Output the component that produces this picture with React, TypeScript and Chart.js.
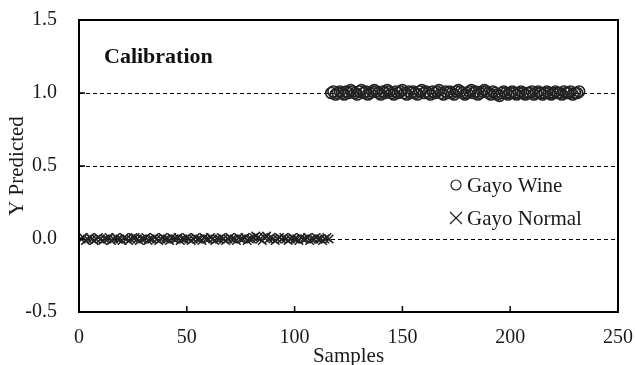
import React, { useEffect, useRef } from "react";
import { Chart, registerables } from "chart.js";

Chart.register(...registerables);

const normalValues: number[] = [
  0.00, 0.01, -0.01, 0.00, 0.01, 0.00, -0.01, 0.00, 0.01, 0.00,
  -0.01, 0.00, 0.00, 0.01, -0.01, 0.00, 0.01, 0.00, 0.00, -0.01,
  0.01, 0.00, -0.01, 0.00, 0.01, 0.01, 0.00, -0.01, 0.00, 0.00,
  0.01, -0.01, 0.00, 0.00, 0.01, 0.00, -0.01, 0.00, 0.01, 0.00,
  0.00, -0.01, 0.01, 0.00, 0.00, 0.01, -0.01, 0.00, 0.00, 0.01,
  0.00, -0.01, 0.00, 0.01, 0.00, 0.00, -0.01, 0.01, 0.00, 0.00,
  0.01, 0.00, -0.01, 0.00, 0.00, 0.01, 0.00, -0.01, 0.00, 0.01,
  0.00, 0.00, -0.01, 0.01, 0.00, 0.00, 0.01, -0.01, 0.00, 0.00,
  0.01, 0.02, 0.01, 0.00, -0.01, 0.01, 0.02, 0.00, 0.01, 0.00,
  -0.01, 0.00, 0.01, 0.00, 0.01, 0.00, -0.01, 0.00, 0.01, 0.00,
  0.00, -0.01, 0.01, 0.00, 0.00, 0.01, -0.01, 0.00, 0.00, 0.01,
  0.00, 0.00, -0.01, 0.00, 0.01, 0.00,
];

const wineValues: number[] = [
  1.00, 1.01, 0.99, 1.00, 1.01, 1.00, 0.99, 1.01, 1.00, 1.02,
  1.01, 1.00, 0.99, 1.01, 1.02, 1.00, 1.01, 0.99, 1.00, 1.01,
  1.02, 1.01, 1.00, 0.99, 1.01, 1.00, 1.02, 1.01, 1.00, 0.99,
  1.01, 1.00, 1.01, 1.02, 1.00, 0.99, 1.01, 1.00, 1.01, 1.00,
  0.99, 1.01, 1.02, 1.00, 1.01, 1.00, 0.99, 1.01, 1.00, 1.01,
  1.02, 1.00, 0.99, 1.01, 1.00, 1.01, 1.00, 0.99, 1.01, 1.02,
  1.01, 1.00, 0.99, 1.00, 1.01, 1.02, 1.00, 1.01, 0.99, 1.00,
  1.01, 1.02, 1.01, 1.00, 0.99, 1.01, 1.00, 0.99, 0.98, 1.00,
  1.01, 1.00, 0.99, 1.00, 1.01, 1.00, 0.99, 1.00, 1.01, 1.00,
  0.99, 1.00, 1.00, 1.01, 0.99, 1.00, 1.01, 1.00, 0.99, 1.00,
  1.01, 1.00, 0.99, 1.00, 1.01, 1.00, 1.00, 0.99, 1.01, 1.00,
  1.00, 1.01, 0.99, 1.00, 1.00, 1.01,
];

const normalStart = 1;
const wineStart = 117;
const seriesNames = ["Gayo Wine", "Gayo Normal"];
const chartTitle = "Calibration";
const xTitle = "Samples";
const yTitle = "Y Predicted";
const xTicks = [0, 50, 100, 150, 200, 250];
const yTicks = [-0.5, 0, 0.5, 1.0, 1.5];
const dashedLevels = [0, 0.5, 1.0];

const FONT = "'Liberation Serif', 'Times New Roman', serif";
const INK = "#1a1a1a";
const MARK = "#222222";

const overlayPlugin = {
  id: "overlay",
  beforeDatasetsDraw(chart: any) {
    const { ctx, chartArea, scales } = chart;
    const y = scales.y;
    ctx.save();
    ctx.strokeStyle = "#000";
    ctx.lineWidth = 1;
    ctx.setLineDash([4, 3]);
    dashedLevels.forEach((v) => {
      const py = Math.round(y.getPixelForValue(v)) + 0.5;
      ctx.beginPath();
      ctx.moveTo(chartArea.left, py);
      ctx.lineTo(chartArea.right, py);
      ctx.stroke();
    });
    ctx.restore();
  },
  afterDraw(chart: any) {
    const { ctx, chartArea, scales } = chart;
    const x = scales.x;
    const y = scales.y;
    ctx.save();
    ctx.strokeStyle = "#000";
    ctx.lineWidth = 2;
    ctx.setLineDash([]);
    ctx.strokeRect(chartArea.left, chartArea.top, chartArea.right - chartArea.left, chartArea.bottom - chartArea.top);
    ctx.lineWidth = 1.5;
    xTicks.forEach((v) => {
      const px = x.getPixelForValue(v);
      ctx.beginPath();
      ctx.moveTo(px, chartArea.bottom);
      ctx.lineTo(px, chartArea.bottom - 6);
      ctx.stroke();
    });
    yTicks.forEach((v) => {
      const py = y.getPixelForValue(v);
      ctx.beginPath();
      ctx.moveTo(chartArea.left, py);
      ctx.lineTo(chartArea.left + 6, py);
      ctx.stroke();
    });

    // title
    ctx.fillStyle = "#111";
    ctx.font = `bold 22px ${FONT}`;
    ctx.textBaseline = "middle";
    ctx.textAlign = "left";
    ctx.fillText(chartTitle, 104, 57);

    // legend
    const lx = 456;
    const ly1 = 185;
    const ly2 = 218;
    ctx.strokeStyle = MARK;
    ctx.lineWidth = 1.2;
    ctx.beginPath();
    ctx.arc(lx, ly1, 5, 0, Math.PI * 2);
    ctx.stroke();
    ctx.beginPath();
    ctx.moveTo(lx - 6, ly2 - 6);
    ctx.lineTo(lx + 6, ly2 + 6);
    ctx.moveTo(lx - 6, ly2 + 6);
    ctx.lineTo(lx + 6, ly2 - 6);
    ctx.stroke();
    ctx.fillStyle = INK;
    ctx.font = `21px ${FONT}`;
    ctx.fillText(seriesNames[0], lx + 11, ly1 + 1);
    ctx.fillText(seriesNames[1], lx + 11, ly2 + 1);
    ctx.restore();
  },
};

export default function App() {
  const ref = useRef<HTMLCanvasElement | null>(null);
  useEffect(() => {
    if (!ref.current) return;
    const wineData = wineValues.map((v, i) => ({ x: wineStart + i, y: v }));
    const normalData = normalValues.map((v, i) => ({ x: normalStart + i, y: v }));
    const chart = new Chart(ref.current, {
      type: "scatter",
      data: {
        datasets: [
          {
            label: seriesNames[0],
            data: wineData,
            pointStyle: "circle",
            pointRadius: 5.5,
            borderColor: MARK,
            backgroundColor: "rgba(0,0,0,0)",
            borderWidth: 1.6,
          },
          {
            label: seriesNames[1],
            data: normalData,
            pointStyle: "crossRot",
            pointRadius: 6,
            borderColor: MARK,
            backgroundColor: MARK,
            borderWidth: 1.6,
          },
        ],
      },
      options: {
        animation: false,
        responsive: false,
        maintainAspectRatio: false,
        layout: { padding: { top: 20, right: 17, left: 0, bottom: 0 } },
        plugins: { legend: { display: false }, tooltip: { enabled: false } },
        scales: {
          x: {
            type: "linear",
            min: 0,
            max: 250,
            afterFit: (s: any) => {
              s.height = 53;
              s.paddingLeft = 0;
              s.paddingRight = 0;
            },
            afterBuildTicks: (s: any) => { s.ticks = xTicks.map((v) => ({ value: v })); },
            grid: { display: false, drawTicks: false },
            border: { display: false },
            ticks: { color: INK, font: { family: FONT, size: 20 }, padding: 14, maxRotation: 0 },
            title: { display: true, text: xTitle, color: INK, font: { family: FONT, size: 21 }, padding: { top: 0, bottom: -4 } },
          },
          y: {
            type: "linear",
            min: -0.5,
            max: 1.5,
            afterFit: (s: any) => {
              s.width = 79;
              s.paddingTop = 0;
              s.paddingBottom = 0;
            },
            afterBuildTicks: (s: any) => { s.ticks = yTicks.map((v) => ({ value: v })); },
            grid: { display: false, drawTicks: false },
            border: { display: false },
            ticks: {
              color: INK,
              font: { family: FONT, size: 20 },
              padding: 22,
              callback: (v: any) => Number(v).toFixed(1),
            },
            title: { display: true, text: yTitle, color: INK, font: { family: FONT, size: 21 }, padding: { top: 5, bottom: 0 } },
          },
        },
      },
      plugins: [overlayPlugin],
    });
    return () => chart.destroy();
  }, []);
  return (
    <div style={{ position: "absolute", left: 0, top: 0, width: 635, height: 365, background: "#fff" }}>
      <canvas ref={ref} width={635} height={365} style={{ width: 635, height: 365 }} />
    </div>
  );
}
